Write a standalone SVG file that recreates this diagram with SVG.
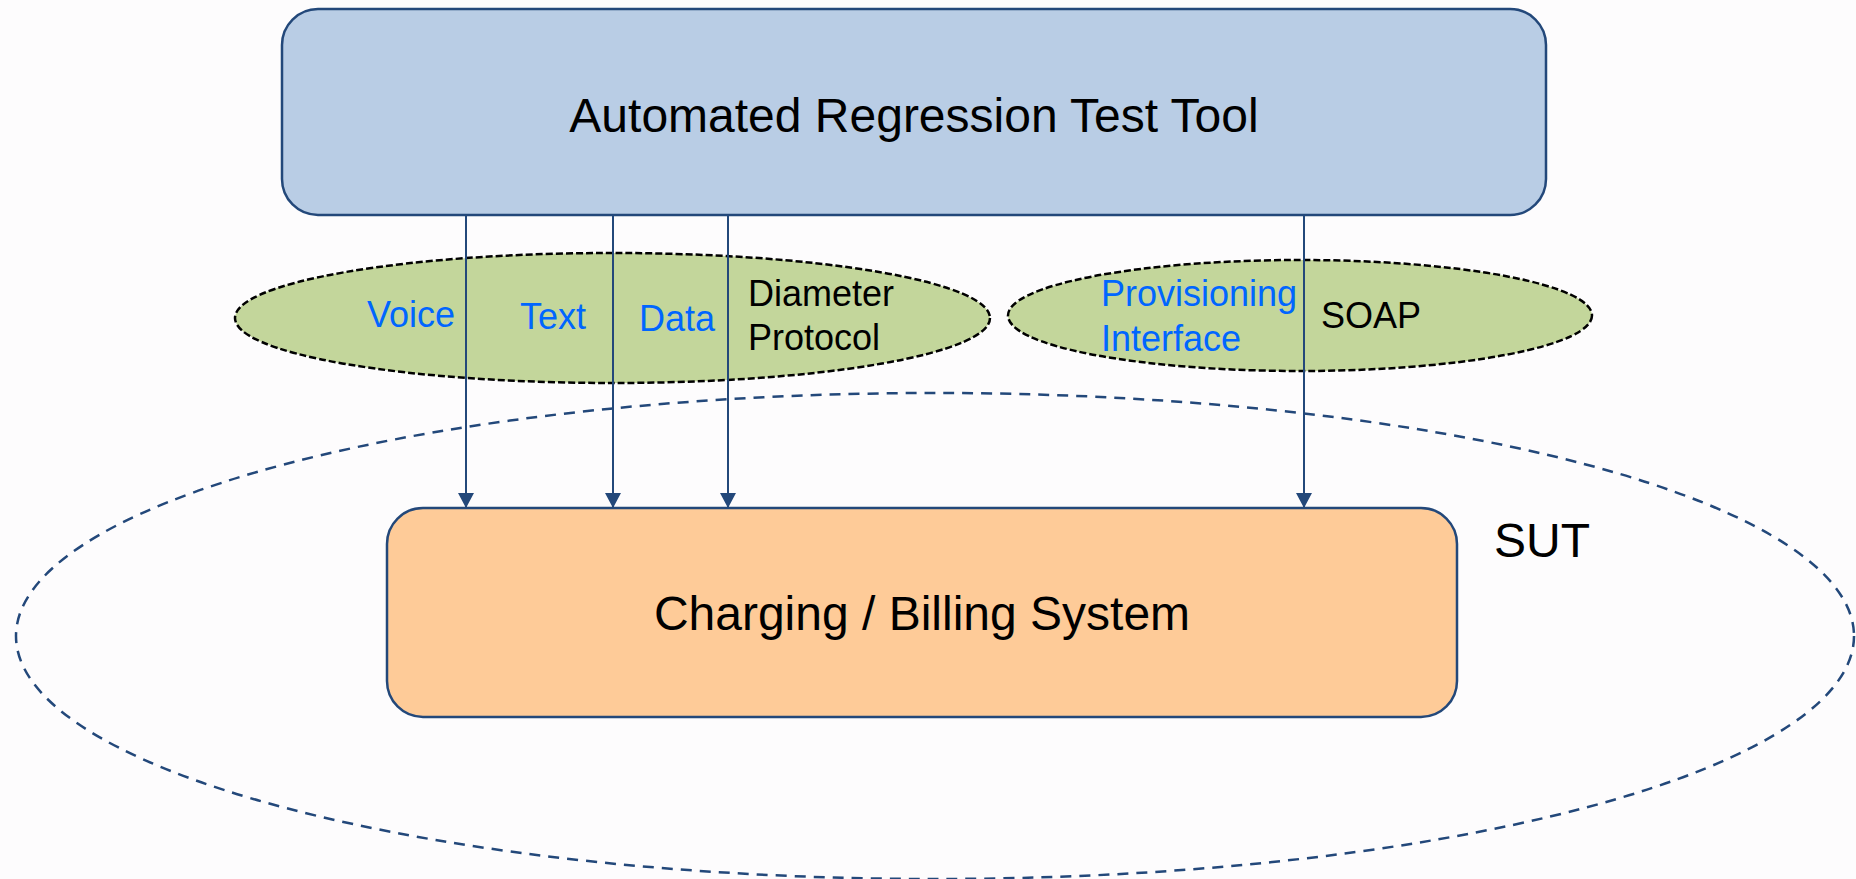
<svg xmlns="http://www.w3.org/2000/svg" width="1856" height="879" viewBox="0 0 1856 879">
  <style>
    .lbl { font-family: "Liberation Sans", Arial, sans-serif; }
    .big { font-size: 48px; fill: #000000; }
    .mid { font-size: 36px; }
    .blue { fill: #0066FF; }
    .black { fill: #000000; }
    .box { stroke: #23487A; stroke-width: 2.5; }
    .proto { fill: #C3D69B; stroke: #000000; stroke-width: 2.5; stroke-dasharray: 7 3; }
    .edge { stroke: #23487A; stroke-width: 2; fill: none; marker-end: url(#arrow); }
  </style>
  <defs>
    <!-- filled triangular head, tip placed on the end of the line -->
    <marker id="arrow" viewBox="0 0 15 16" refX="15" refY="8" markerWidth="15" markerHeight="16" markerUnits="userSpaceOnUse" orient="auto">
      <path d="M0,0 L15,8 L0,16 Z" fill="#23487A"/>
    </marker>
  </defs>

  <rect x="0" y="0" width="1856" height="879" fill="#FDFCFD"/>

  <!-- system-under-test boundary -->
  <g id="sut">
    <ellipse cx="935" cy="636" rx="919" ry="243" fill="none" stroke="#23487A" stroke-width="2.5" stroke-dasharray="11 8"/>
    <text class="lbl big" x="1494" y="557" font-size="51">SUT</text>
  </g>

  <!-- protocol groupings -->
  <g id="diameter">
    <ellipse class="proto" cx="612.5" cy="318" rx="377.5" ry="65"/>
    <text class="lbl mid blue" x="367" y="327">Voice</text>
    <text class="lbl mid blue" x="520" y="329">Text</text>
    <text class="lbl mid blue" x="639" y="331">Data</text>
    <text class="lbl mid black" x="748" y="306">Diameter</text>
    <text class="lbl mid black" x="748" y="350">Protocol</text>
  </g>

  <g id="soap">
    <ellipse class="proto" cx="1300" cy="315.5" rx="292" ry="55.5"/>
    <text class="lbl mid blue" x="1101" y="306">Provisioning</text>
    <text class="lbl mid blue" x="1101" y="351">Interface</text>
    <text class="lbl mid black" x="1321" y="328">SOAP</text>
  </g>

  <!-- test tool -->
  <g id="test-tool">
    <rect class="box" x="282" y="9" width="1264" height="206" rx="36" ry="36" fill="#B9CDE5"/>
    <text class="lbl big" x="914" y="132" text-anchor="middle" font-size="47">Automated Regression Test Tool</text>
  </g>

  <!-- charging / billing -->
  <g id="billing">
    <rect class="box" x="387" y="508" width="1070" height="209" rx="36" ry="36" fill="#FECB98"/>
    <text class="lbl big" x="922" y="630" text-anchor="middle">Charging / Billing System</text>
  </g>

  <!-- interfaces from tool to system -->
  <g id="connectors">
    <line class="edge" x1="466" y1="215" x2="466" y2="508"/>
    <line class="edge" x1="613" y1="215" x2="613" y2="508"/>
    <line class="edge" x1="728" y1="215" x2="728" y2="508"/>
    <line class="edge" x1="1304" y1="215" x2="1304" y2="508"/>
  </g>
</svg>
